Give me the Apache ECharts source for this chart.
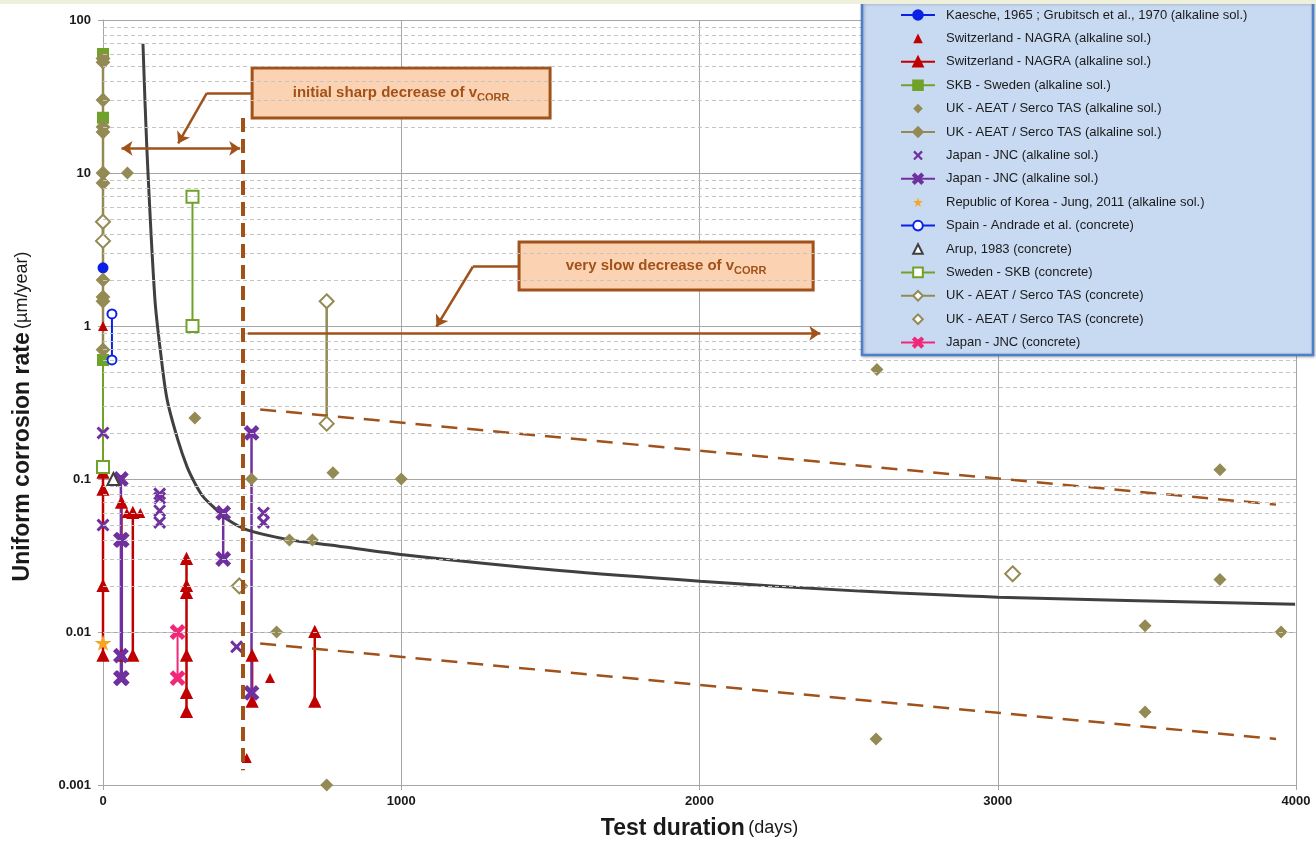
<!DOCTYPE html>
<html>
<head>
<meta charset="utf-8">
<script src="https://cdn.jsdelivr.net/npm/echarts@6/dist/echarts.min.js"></script>
<style>
html, body { margin: 0; padding: 0; background: #fff; }
#chart { width: 1316px; height: 842px; }
</style>
</head>
<body>
<div id="chart"></div>
<script>
// all points are [test duration (days), uniform corrosion rate (µm/year)]
// '-' pairs break a line into separate segments
var BRK = ['-', '-'];

var kaesche = [[0, 2.4], [0, 0.6]];
var nagraPts = [[0, 1.0], [80, 0.06], [125, 0.06], [482, 0.0015], [560, 0.005]];
var nagraLines = [
    [0, 0.11], [0, 0.085], [0, 0.02], [0, 0.007], BRK,
    [62, 0.07], [62, 0.007], BRK,
    [100, 0.06], [100, 0.007], BRK,
    [280, 0.03], [280, 0.02], [280, 0.018], [280, 0.007], [280, 0.004], [280, 0.003], BRK,
    [500, 0.007], [500, 0.0035], BRK,
    [710, 0.01], [710, 0.0035]
];
var skbAlk = [[0, 60], [0, 23], [0, 0.6], [0, 0.12]];
var ukAlkPts = [
    [82, 10], [308, 0.25], [498, 0.1], [771, 0.11], [1000, 0.1], [625, 0.04], [702, 0.04],
    [582, 0.01], [750, 0.001], [2595, 0.52], [2592, 0.002], [3745, 0.115], [3745, 0.022],
    [3494, 0.011], [3494, 0.003], [3950, 0.01]
];
var ukAlkLine = [[0, 56], [0, 53], [0, 30], [0, 20], [0, 18.5], [0, 10], [0, 8.6], [0, 2], [0, 1.55], [0, 1.45], [0, 0.7]];
var jncAlkPts = [[0, 0.2], [0, 0.05], [190, 0.08], [190, 0.075], [190, 0.062], [190, 0.052], [448, 0.008], [538, 0.06], [538, 0.052]];
var jncAlkLines = [
    [60, 0.1], [60, 0.04], [60, 0.007], [60, 0.005], BRK,
    [63, 0.04], [63, 0.005], BRK,
    [403, 0.06], [403, 0.03], BRK,
    [498, 0.2], [498, 0.004]
];
var korea = [[0, 0.0085]];
var spain = [[30, 1.2], [30, 0.6]];
var arup = [[35, 0.1]];
var skbConc = [[0, 0.12], BRK, [300, 7], [300, 1]];
var ukConcLine = [[0, 4.8], [0, 3.6], BRK, [750, 1.45], [750, 0.23]];
var ukConcPts = [[457, 0.02], [3050, 0.024]];
var jncConc = [[250, 0.01], [250, 0.005]];

var trendDays = [134, 147, 174, 194, 215, 251, 282, 308, 335, 380, 416, 483, 627, 761, 1029, 1530, 2002, 2538, 3001, 3997];
var trendRate = [70, 14.5, 1.5, 0.65, 0.33, 0.18, 0.12, 0.094, 0.077, 0.063, 0.0545, 0.0465, 0.040, 0.037, 0.0316, 0.0252, 0.0215, 0.0185, 0.0169, 0.0152];
var upperEnv = [[527, 0.285], [3933, 0.068]];
var lowerEnv = [[527, 0.0084], [3933, 0.002]];

var xTicks = [0, 1000, 2000, 3000, 4000];
var yDecades = [0.001, 0.01, 0.1, 1, 10, 100];

var BLUE = '#0a22e6', RED = '#c00000', GREEN = '#70a22a', OLIVE = '#948a54',
    PURPLE = '#7030a0', ORANGE = '#f5a623', DARK = '#404040', PINK = '#f0287a',
    BROWN = '#a0521a', PEACH = '#fcd3b2';
var FONT = '"Liberation Sans", Arial, sans-serif';
var XSYM = 'path://M0,1.6L1.6,0L5,3.4L8.4,0L10,1.6L6.6,5L10,8.4L8.4,10L5,6.6L1.6,10L0,8.4L3.4,5Z';
var STAR = 'path://M50,0L61,35L98,35L68,57L79,91L50,70L21,91L32,57L2,35L39,35Z';

var minorLines = [];
yDecades.slice(0, -1).forEach(function (d) {
    for (var m = 2; m <= 9; m++) minorLines.push({ yAxis: parseFloat((m * d).toPrecision(3)) });
});

var trend = trendDays.map(function (d, i) { return [d, trendRate[i]]; });

function lineSeries(name, data, symbol, size, color, width, extra) {
    var s = {
        name: name, type: 'line', data: data, symbol: symbol, symbolSize: size,
        symbolKeepAspect: true, connectNulls: false, showAllSymbol: true,
        lineStyle: { color: color, width: width },
        itemStyle: { color: color, borderColor: color, borderWidth: 2 }
    };
    return Object.assign(s, extra || {});
}
// markers only: a line series with no visible line, so the legend keeps the marker shape
function pointSeries(name, data, symbol, size, color, extra) {
    var s = lineSeries(name, data, symbol, size, color, 0, extra);
    s.lineStyle = { width: 0, opacity: 0 };
    if (!extra || !extra.itemStyle) s.itemStyle = { color: color, borderWidth: 0 };
    return s;
}

// same legend text appears twice in the original; a trailing space keeps the names apart
var names = [
    'Kaesche, 1965 ; Grubitsch et al., 1970 (alkaline sol.)',
    'Switzerland - NAGRA (alkaline sol.)',
    'Switzerland - NAGRA (alkaline sol.) ',
    'SKB - Sweden (alkaline sol.)',
    'UK - AEAT / Serco TAS (alkaline sol.)',
    'UK - AEAT / Serco TAS (alkaline sol.) ',
    'Japan - JNC (alkaline sol.)',
    'Japan - JNC (alkaline sol.) ',
    'Republic of Korea - Jung, 2011 (alkaline sol.)',
    'Spain - Andrade et al. (concrete)',
    'Arup, 1983 (concrete)',
    'Sweden - SKB (concrete)',
    'UK - AEAT / Serco TAS (concrete)',
    'UK - AEAT / Serco TAS (concrete) ',
    'Japan - JNC (concrete)'
];

var chart = echarts.init(document.getElementById('chart'));
chart.setOption({
    animation: false,
    backgroundColor: '#fff',
    textStyle: { fontFamily: FONT },
    grid: { left: 103, right: 20, top: 20, bottom: 57, outerBoundsMode: 'none', containLabel: false },
    legend: {
        data: names,
        orient: 'vertical',
        left: 900, top: 7,
        padding: 0,
        itemWidth: 34, itemHeight: 12, itemGap: 7.4,
        z: 101,
        formatter: function (n) { return n.trim(); },
        textStyle: { fontSize: 13, color: '#1a1a1a', lineHeight: 16, padding: [0, 0, 0, 6], fontFamily: FONT },
        selectedMode: false
    },
    graphic: [
        { type: 'rect', z: 100, shape: { x: 862, y: 2, width: 451, height: 353 },
          style: { fill: '#c8daf1', stroke: '#4d80c8', lineWidth: 2.5,
                   shadowBlur: 3, shadowColor: 'rgba(0,0,0,0.25)', shadowOffsetX: 1, shadowOffsetY: 1 } },
        { type: 'rect', z: 100, shape: { x: 0, y: 0, width: 1316, height: 4 }, style: { fill: '#eef0dc' } }
    ],
    xAxis: {
        type: 'value', min: xTicks[0], max: xTicks[xTicks.length - 1], interval: 1000,
        name: '{b|Test duration} {n|(days)}', nameLocation: 'middle', nameGap: 32,
        nameTextStyle: { rich: {
            b: { fontSize: 23, fontWeight: 'bold', color: '#1a1a1a', fontFamily: FONT },
            n: { fontSize: 18, color: '#1a1a1a', fontFamily: FONT } } },
        axisLine: { onZero: false, lineStyle: { color: '#a6a6a6' } },
        axisTick: { show: true, length: 5, lineStyle: { color: '#a6a6a6' } },
        axisLabel: { fontSize: 13, fontWeight: 'bold', color: '#1a1a1a', margin: 10,
                     formatter: function (v) { return String(v); } },
        splitLine: { show: true, lineStyle: { color: '#a6a6a6', width: 1 } }
    },
    yAxis: {
        type: 'log', logBase: 10, min: yDecades[0], max: yDecades[yDecades.length - 1],
        name: '{b|Uniform corrosion rate} {n|(µm/year)}', nameLocation: 'middle', nameGap: 69, nameRotate: 90,
        nameTextStyle: { padding: [0, 28, 0, 0], rich: {
            b: { fontSize: 23, fontWeight: 'bold', color: '#1a1a1a', fontFamily: FONT },
            n: { fontSize: 18, color: '#1a1a1a', fontFamily: FONT } } },
        axisLine: { show: true, lineStyle: { color: '#a6a6a6' } },
        axisTick: { show: true, length: 5, lineStyle: { color: '#a6a6a6' } },
        axisLabel: { fontSize: 13, fontWeight: 'bold', color: '#1a1a1a', margin: 12,
                     formatter: function (v) { return String(parseFloat(Number(v).toPrecision(6))); } },
        splitLine: { show: true, lineStyle: { color: '#a6a6a6', width: 1 } }
    },
    series: [
        lineSeries(names[0], kaesche, 'circle', 9, BLUE, 2),
        pointSeries(names[1], nagraPts, 'triangle', 10, RED),
        lineSeries(names[2], nagraLines, 'triangle', 10, RED, 2.5),
        lineSeries(names[3], skbAlk, 'rect', 10, GREEN, 2),
        pointSeries(names[4], ukAlkPts, 'diamond', 13, OLIVE),
        lineSeries(names[5], ukAlkLine, 'diamond', 12, OLIVE, 2.5),
        pointSeries(names[6], jncAlkPts, XSYM, 13, PURPLE),
        lineSeries(names[7], jncAlkLines, XSYM, 13, PURPLE, 2.5),
        pointSeries(names[8], korea, STAR, 17, ORANGE),
        lineSeries(names[9], spain, 'emptyCircle', 9, BLUE, 2, { itemStyle: { color: BLUE, borderColor: BLUE, borderWidth: 2 } }),
        pointSeries(names[10], arup, 'emptyTriangle', 12, DARK, { itemStyle: { color: DARK, borderColor: DARK, borderWidth: 2.5 } }),
        lineSeries(names[11], skbConc, 'emptyRect', 12, GREEN, 2, { itemStyle: { color: GREEN, borderColor: GREEN, borderWidth: 2.5 } }),
        lineSeries(names[12], ukConcLine, 'emptyDiamond', 14, OLIVE, 2.5, { itemStyle: { color: OLIVE, borderColor: OLIVE, borderWidth: 2.5 } }),
        pointSeries(names[13], ukConcPts, 'emptyDiamond', 15, OLIVE, { itemStyle: { color: OLIVE, borderColor: OLIVE, borderWidth: 2.5 } }),
        lineSeries(names[14], jncConc, XSYM, 13, PINK, 2),
        {
            name: 'trend', type: 'line', data: trend, symbol: 'none', smooth: 0.3, z: 3,
            lineStyle: { color: DARK, width: 3 }
        },
        {
            name: 'upper', type: 'line', data: upperEnv, symbol: 'none', z: 3,
            lineStyle: { color: BROWN, width: 2.5, type: [16, 10] }
        },
        {
            name: 'lower', type: 'line', data: lowerEnv, symbol: 'none', z: 3,
            lineStyle: { color: BROWN, width: 2.5, type: [16, 10] }
        },
        {
            // minor log grid lines
            name: 'minor', type: 'line', data: [], z: 1, silent: true,
            markLine: {
                silent: true, symbol: 'none', label: { show: false },
                lineStyle: { color: '#c4c4c4', width: 1, type: [4, 3] },
                data: minorLines
            }
        },
        {
            // annotations
            name: 'notes', type: 'line', data: [], z: 4, silent: true,
            markLine: {
                silent: true, symbol: 'none', symbolSize: 11, label: { show: false },
                lineStyle: { color: BROWN, width: 2.5, type: 'solid' },
                data: [
                    [{ coord: [62, 14.5], symbol: 'arrow' }, { coord: [460, 14.5], symbol: 'arrow' }],
                    [{ coord: [485, 0.896], symbol: 'none' }, { coord: [2405, 0.896], symbol: 'arrow' }],
                    [{ coord: [468, 22.9], lineStyle: { width: 4, type: [14, 7] } }, { coord: [468, 0.00125] }],
                    [{ coord: [499, 33.3] }, { coord: [348, 33.3] }],
                    [{ coord: [348, 33.3], symbol: 'none' }, { coord: [252, 15.6], symbol: 'arrow' }],
                    [{ coord: [1395, 2.44] }, { coord: [1240, 2.44] }],
                    [{ coord: [1240, 2.44], symbol: 'none' }, { coord: [1118, 0.99], symbol: 'arrow' }]
                ]
            },
            markArea: {
                silent: true,
                itemStyle: { color: PEACH, opacity: 1, borderColor: BROWN, borderWidth: 3 },
                label: {
                    show: true, position: 'inside',
                    rich: {
                        a: { fontSize: 15, fontWeight: 'bold', color: BROWN, fontFamily: FONT },
                        s: { fontSize: 11, fontWeight: 'bold', color: BROWN, fontFamily: FONT, padding: [9, 0, 0, 0] }
                    }
                },
                data: [
                    [{ coord: [500, 48.5], label: { formatter: '{a|initial sharp decrease of v}{s|CORR}' } },
                     { coord: [1499, 22.9] }],
                    [{ coord: [1395, 3.54], label: { formatter: '{a|very slow decrease of v}{s|CORR}' } },
                     { coord: [2381, 1.72] }]
                ]
            }
        }
    ]
});
</script>
</body>
</html>
